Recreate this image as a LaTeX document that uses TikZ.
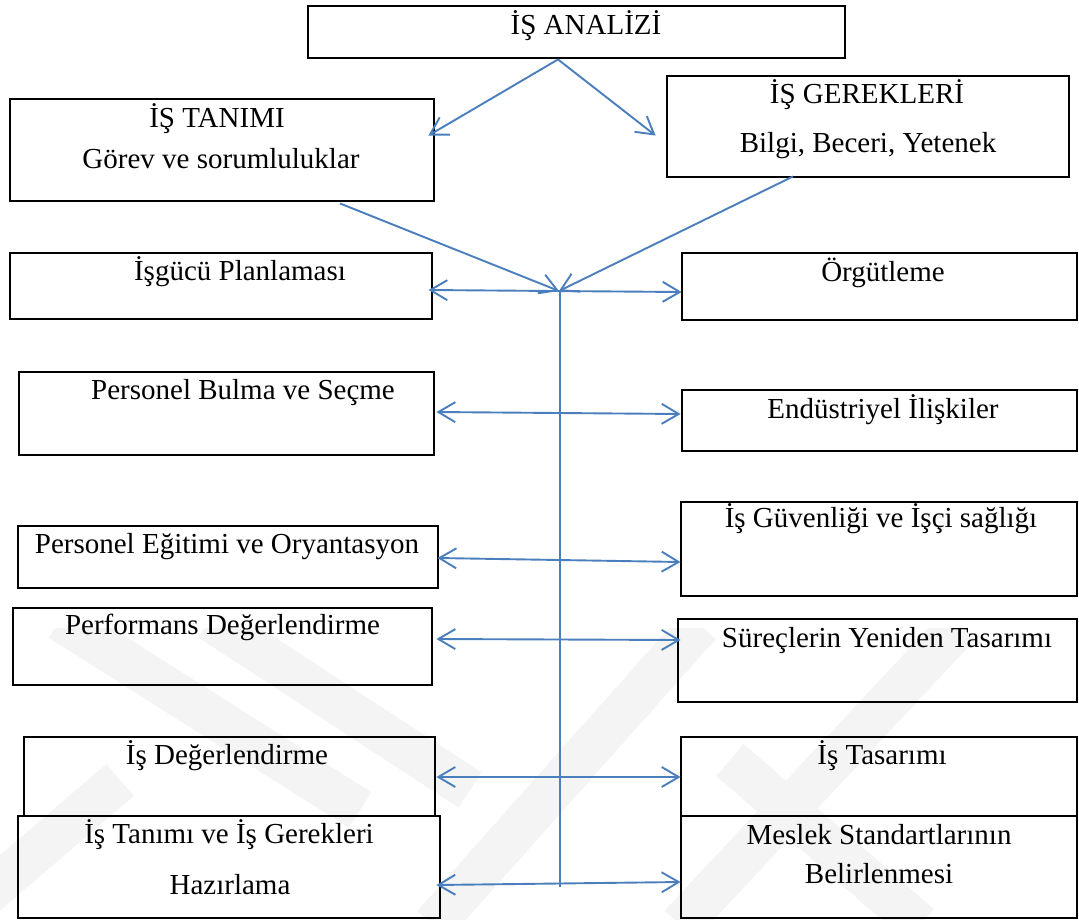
\documentclass[tikz,border=0pt]{standalone}
\usepackage{fontspec}
\setmainfont{Liberation Serif}
\usetikzlibrary{arrows.meta,calc}
\definecolor{lineblue}{RGB}{74,126,189}
\definecolor{wmgray}{RGB}{244,244,244}
\begin{document}
\begin{tikzpicture}[x=1pt,y=-1pt,
  box/.style={draw,line width=2.9pt,inner sep=0pt},
  txt/.style={font=\fontsize{29}{35}\selectfont,inner sep=0pt,anchor=base},
  conn/.style={lineblue,line width=1.9pt},
  arr/.style={conn,-{Straight Barb[length=17pt,width=20pt]}},
  dbl/.style={conn,{Straight Barb[length=17pt,width=20pt]}-{Straight Barb[length=17pt,width=20pt]}},
  wm/.style={wmgray,line width=42pt}]
\useasboundingbox[fill=white] (0,0) rectangle (1079,919);
% faint watermark
\begin{scope}
\clip (0,628) rectangle (1079,919);
\draw[wm] (60,620) -- (360,810);
\draw[wm] (210,620) -- (470,790);
\draw[wm] (433,925) -- (700,625);
\draw[wm] (680,925) -- (960,625);
\draw[wm] (730,760) -- (920,925);
\draw[wm] (-20,900) -- (120,780);
\end{scope}
% boxes
\node[box,minimum width=537pt,minimum height=52pt] (ana) at (576.5,32) {};
\node[box,minimum width=424pt,minimum height=102pt] (tan) at (222,150) {};
\node[box,minimum width=402pt,minimum height=101pt] (ger) at (868,126.5) {};
\node[box,minimum width=422pt,minimum height=66pt] (p1) at (221,286) {};
\node[box,minimum width=395pt,minimum height=67pt] (o1) at (879.5,286.5) {};
\node[box,minimum width=415pt,minimum height=83pt] (p2) at (226.5,413.5) {};
\node[box,minimum width=395pt,minimum height=61pt] (o2) at (879.5,420.5) {};
\node[box,minimum width=420pt,minimum height=62pt] (p3) at (228,557) {};
\node[box,minimum width=396pt,minimum height=94pt] (o3) at (879,549) {};
\node[box,minimum width=419pt,minimum height=77pt] (p4) at (222.5,646.5) {};
\node[box,minimum width=399pt,minimum height=83pt] (o4) at (877.5,660.5) {};
\node[box,minimum width=411pt,minimum height=79pt] (p5) at (229.5,776.5) {};
\node[box,minimum width=396pt,minimum height=79pt] (o5) at (879,776.5) {};
\node[box,minimum width=422pt,minimum height=102pt] (p6) at (229,867) {};
\node[box,minimum width=396pt,minimum height=102pt] (o6) at (879,867) {};
% texts
\node[txt] (anaT) at (586,34) {İŞ ANALİZİ};
\node[txt] (tanT1) at (217,127) {İŞ TANIMI};
\node[txt] (tanT2) at (221,168) {Görev ve sorumluluklar};
\node[txt] (gerT1) at (867,103) {İŞ GEREKLERİ};
\node[txt] (gerT2) at (868,152) {Bilgi, Beceri, Yetenek};
\node[txt] (p1T) at (240,280) {İşgücü Planlaması};
\node[txt] (o1T) at (883,281) {Örgütleme};
\node[txt] (p2T) at (243,399) {Personel Bulma ve Seçme};
\node[txt] (o2T) at (883,418) {Endüstriyel İlişkiler};
\node[txt] (p3T) at (227,553) {Personel Eğitimi ve Oryantasyon};
\node[txt] (o3T) at (881,527) {İş Güvenliği ve İşçi sağlığı};
\node[txt] (p4T) at (222.5,634) {Performans Değerlendirme};
\node[txt] (o4T) at (887,647) {Süreçlerin Yeniden Tasarımı};
\node[txt] (p5T) at (227,764) {İş Değerlendirme};
\node[txt] (o5T) at (882,764) {İş Tasarımı};
\node[txt] (p6T1) at (229,843) {İş Tanımı ve İş Gerekleri};
\node[txt] (p6T2) at (230,894) {Hazırlama};
\node[txt] (o6T1) at (879,844) {Meslek Standartlarının};
\node[txt] (o6T2) at (879,883) {Belirlenmesi};
% connectors
\coordinate (apex) at ($(ana.south)+(-18.5,0)$);
\coordinate (jn) at (559,291);
\coordinate (vt) at (560,291);
\coordinate (vb) at (560,887);
\draw[arr] (apex) -- ($(tan.north east)+(-7,38)$);
\draw[arr] (apex) -- ($(ger.north west)+(-10,61)$);
\draw[arr] ($(tan.south)+(118,1)$) -- (jn);
\draw[arr] ($(ger.south)+(-75,-2)$) -- (jn);
\draw[conn] (vt) -- (vb);
\draw[dbl] ($(p1.east)+(-5,4)$) -- ($(o1.west)+(1,5.5)$);
\draw[dbl] ($(p2.east)+(1,-1.5)$) -- ($(o2.west)+(0,-6.5)$);
\draw[dbl] ($(p3.east)+(-2,1)$) -- ($(o3.west)+(1,13)$);
\draw[dbl] ($(p4.east)+(3,-7.5)$) -- ($(o4.west)+(4,-20.5)$);
\draw[dbl] ($(p5.east)+(0,0.5)$) -- ($(o5.west)+(1,0.5)$);
\draw[dbl] ($(p6.east)+(-5,18)$) -- ($(o6.west)+(1,15)$);
\end{tikzpicture}
\end{document}
